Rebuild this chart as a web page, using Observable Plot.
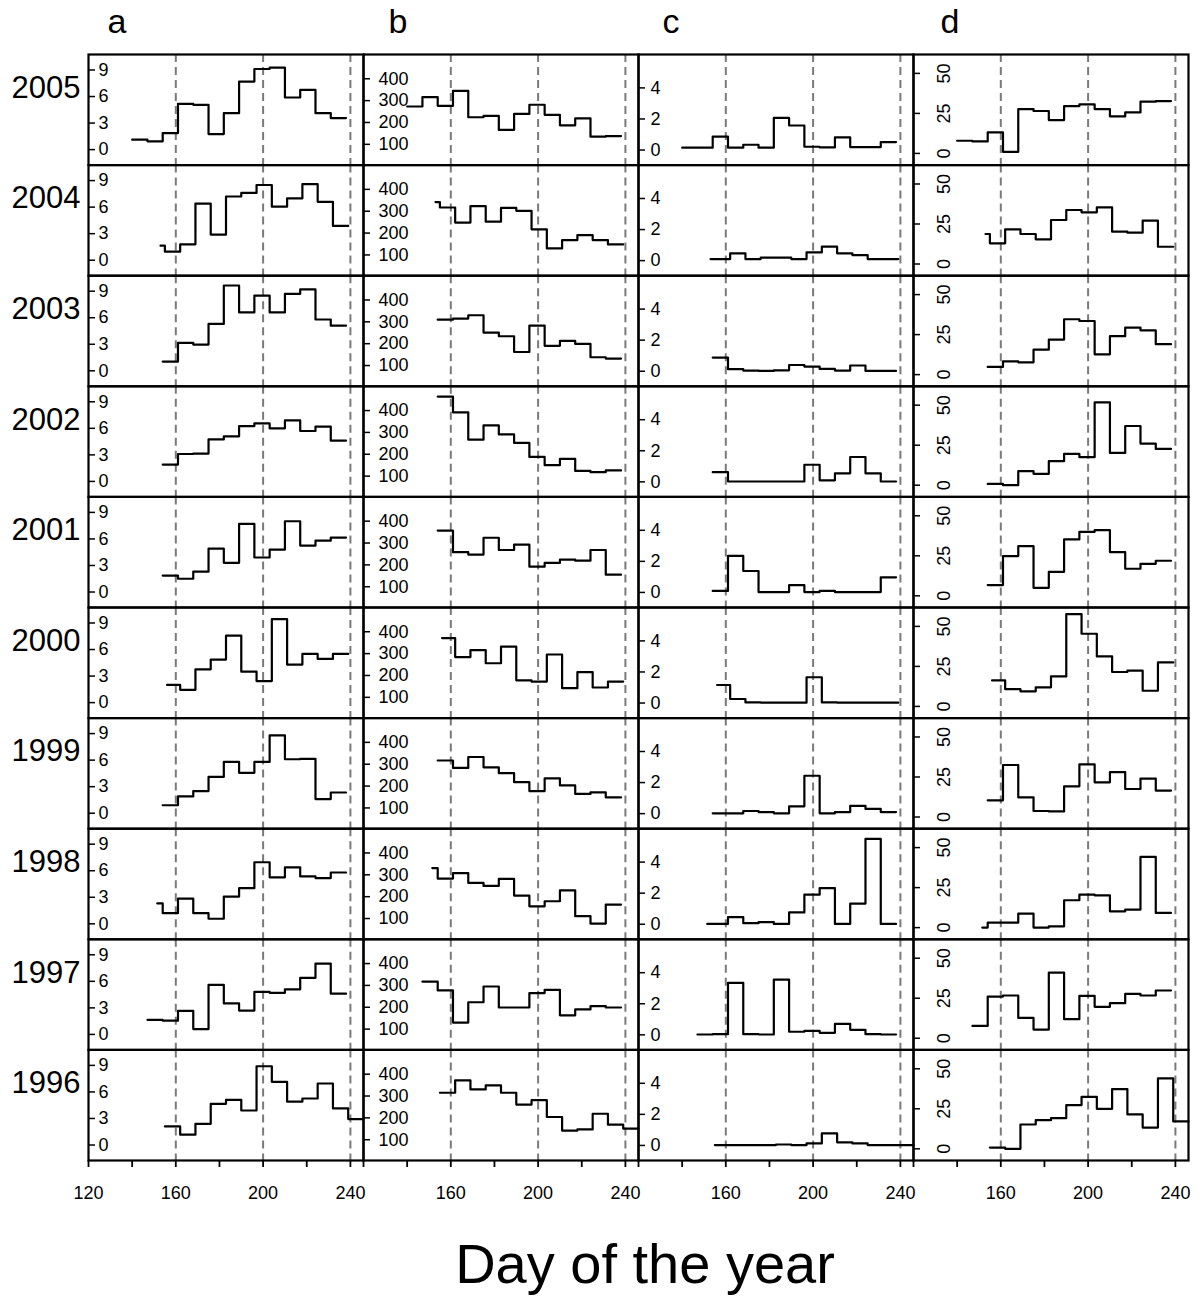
<!DOCTYPE html>
<html>
<head>
<meta charset="utf-8">
<script src="https://cdn.jsdelivr.net/npm/d3@7"></script>
<script src="https://cdn.jsdelivr.net/npm/@observablehq/plot@0.6"></script>
<style>
  body { margin: 0; background: #fff; font-family: "Liberation Sans", Arial, sans-serif; }
  #wrap { position: relative; width: 1200px; height: 1299px; overflow: hidden; background: #fff; }
  .col { position: absolute; top: 0; }
  #overlay { position: absolute; left: 0; top: 0; pointer-events: none; }
</style>
</head>
<body>
<div id="wrap">
  <svg id="overlay" width="1200" height="1299" font-family="Liberation Sans, Arial, sans-serif"></svg>
</div>
<script>
// ---------------- data ----------------
const years = [2005, 2004, 2003, 2002, 2001, 2000, 1999, 1998, 1997, 1996];

// weekly bin edges (day of the year) for each year, same order as `years`
const binEdges = [
  [140, 147, 154, 161, 168, 175, 182, 189, 196, 203, 210, 217, 224, 231, 238],
  [153, 155, 162, 169, 176, 183, 190, 197, 204, 211, 218, 225, 232, 239],
  [154, 161, 168, 175, 182, 189, 196, 203, 210, 217, 224, 231, 238],
  [154, 161, 168, 175, 182, 189, 196, 203, 210, 217, 224, 231, 238],
  [154, 161, 168, 175, 182, 189, 196, 203, 210, 217, 224, 231, 238],
  [156, 162, 169, 176, 183, 190, 197, 204, 211, 218, 225, 232, 239],
  [154, 161, 168, 175, 182, 189, 196, 203, 210, 217, 224, 231, 238],
  [151.5, 154, 161, 168, 175, 182, 189, 196, 203, 210, 217, 224, 231, 238],
  [147, 154, 161, 168, 175, 182, 189, 196, 203, 210, 217, 224, 231, 238],
  [155, 162, 169, 176, 183, 190, 197, 204, 211, 218, 225, 232, 239, 246]
];

// panel a
const seriesA = [
  [1.12, 0.94, 1.87, 5.17, 5.06, 1.76, 4.12, 7.69, 9.11, 9.26, 5.89, 6.75, 4.12, 3.56],
  [1.64, 0.97, 1.8, 6.4, 2.9, 7.2, 7.6, 8.5, 6.05, 7.0, 8.6, 6.6, 3.87],
  [1.05, 3.16, 2.97, 5.3, 9.64, 6.6, 8.5, 6.6, 8.7, 9.2, 5.8, 5.1],
  [1.9, 3.1, 3.15, 4.75, 5.1, 6.25, 6.55, 6.0, 6.9, 5.7, 6.2, 4.6],
  [1.86, 1.5, 2.3, 4.9, 3.3, 7.7, 3.9, 4.8, 8.0, 5.25, 5.8, 6.15],
  [2.0, 1.45, 3.76, 4.87, 7.57, 3.5, 2.43, 9.43, 4.3, 5.5, 4.94, 5.5],
  [0.9, 1.9, 2.5, 4.1, 5.8, 4.57, 5.8, 8.8, 6.1, 6.15, 1.6, 2.34],
  [2.3, 1.2, 2.85, 1.2, 0.57, 3.08, 4.03, 6.96, 5.25, 6.39, 5.36, 5.17, 5.8],
  [1.65, 1.55, 2.65, 0.6, 5.6, 3.5, 2.7, 4.8, 4.7, 5.1, 6.4, 8.0, 4.6],
  [2.1, 1.17, 2.4, 4.66, 5.1, 3.9, 8.9, 7.14, 4.9, 5.26, 6.95, 4.14, 2.93]
];

// panel b
const seriesB = [
  [273, 316, 276, 345, 224, 230, 166, 239, 281, 235, 187, 219, 135, 138],
  [342, 317, 248, 323, 252, 315, 302, 217, 130, 168, 191, 168, 148],
  [310, 315, 330, 251, 234, 162, 283, 190, 213, 199, 138, 132],
  [464, 392, 267, 332, 291, 252, 188, 150, 179, 124, 118, 126],
  [357, 258, 247, 324, 268, 293, 192, 209, 224, 219, 268, 155],
  [371, 284, 316, 256, 332, 178, 172, 296, 142, 215, 145, 172],
  [317, 283, 333, 286, 259, 218, 177, 235, 203, 164, 171, 148],
  [331, 283, 308, 263, 249, 281, 205, 156, 179, 229, 111, 77, 164],
  [317, 277, 130, 223, 295, 199, 199, 265, 280, 163, 190, 205, 199],
  [315, 372, 330, 349, 315, 261, 281, 204, 142, 147, 219, 169, 151]
];

// panel c
const seriesC = [
  [0.15, 0.15, 0.86, 0.15, 0.34, 0.15, 2.07, 1.58, 0.21, 0.17, 0.81, 0.19, 0.19, 0.51],
  [0.1, 0.1, 0.47, 0.1, 0.19, 0.19, 0.1, 0.53, 0.9, 0.47, 0.36, 0.1, 0.1],
  [0.88, 0.13, 0.04, 0.02, 0.06, 0.4, 0.3, 0.15, 0.04, 0.37, 0.02, 0.02],
  [0.62, 0.02, 0.02, 0.02, 0.02, 0.02, 1.1, 0.1, 0.55, 1.6, 0.55, 0.02],
  [0.1, 2.35, 1.38, 0.02, 0.02, 0.47, 0.02, 0.1, 0.02, 0.02, 0.02, 0.97],
  [1.16, 0.26, 0.04, 0.02, 0.02, 0.02, 1.66, 0.04, 0.02, 0.02, 0.02, 0.02],
  [0.02, 0.02, 0.17, 0.1, 0.02, 0.47, 2.44, 0.02, 0.1, 0.5, 0.3, 0.1],
  [0.02, 0.02, 0.46, 0.07, 0.13, 0.02, 0.76, 1.9, 2.33, 0.02, 1.33, 5.5, 0.02],
  [0.02, 0.04, 3.35, 0.04, 0.02, 3.55, 0.2, 0.26, 0.13, 0.7, 0.32, 0.04, 0.02],
  [0.02, 0.02, 0.02, 0.02, 0.06, 0.02, 0.13, 0.77, 0.2, 0.13, 0.02, 0.02, 0.02]
];

// panel d
const seriesD = [
  [7.9, 7.5, 13.1, 1.0, 27.7, 26.5, 20.8, 29.6, 30.6, 27.7, 23.1, 25.6, 32.3, 32.7],
  [18.75, 12.9, 21.7, 18.75, 15.4, 27.5, 33.75, 32.3, 35.4, 20.2, 19.6, 27.1, 10.8],
  [4.8, 8.3, 7.7, 15.6, 21.9, 34.6, 33.5, 12.7, 24, 29.4, 27.7, 19],
  [0.8, 0, 8.75, 7.1, 15, 19.6, 17.5, 51.7, 20.2, 37, 26, 22.7],
  [6.7, 24.8, 31, 5, 15, 35.2, 40, 41, 27.3, 16.9, 20, 21.9],
  [16.25, 10.8, 9.4, 11.9, 18.75, 57.7, 45.4, 31.25, 21.5, 22.3, 9.8, 27.5],
  [10.4, 32.5, 12.3, 3.75, 3.5, 19.2, 32.9, 21.7, 28.1, 17.5, 24, 16.5],
  [0, 3.1, 3.1, 8.75, 0, 0.8, 17.1, 20.6, 20.2, 10.2, 11.25, 44.2, 9.2],
  [7.7, 26, 26.7, 12.7, 5.4, 41, 11.9, 26.5, 19.6, 21.9, 27.7, 26.7, 29.8],
  [0.8, 0, 15.2, 17.9, 19.2, 27.3, 32.5, 25, 37.3, 21.5, 13.3, 44, 17.1]
];

const panelLetters = ["a", "b", "c", "d"];
const yTicksA = [0, 3, 6, 9];
const yTicksB = [100, 200, 300, 400];
const yTicksC = [0, 2, 4];
const yTicksD = [0, 25, 50];
const xTicks = [120, 140, 160, 180, 200, 220, 240];
const xLabelsFirst = [120, 160, 200, 240];
const xLabelsOther = [160, 200, 240];
const dashDays = [160, 200, 240];
const xTitle = "Day of the year";

// ---------------- layout ----------------
const FONT = "Liberation Sans, Arial, sans-serif";
const panelW = 275;
const colLeft = [88, 363, 638, 913];
const panelTop = 54, panelBottom = 1160;
const plotH = 1220;
const TICK_FS = 18;

function toSteps(series) {
  const out = [];
  years.forEach((yr, i) => {
    const e = binEdges[i], v = series[i];
    const n = Math.min(v.length, e.length - 1);
    for (let k = 0; k < n; k++) out.push({year: yr, day: e[k], v: v[k]});
    out.push({year: yr, day: e[n], v: v[n - 1]});
  });
  return out;
}

const columns = [
  {series: seriesA, domain: [-1.75, 10.75], ticks: yTicksA, labelDx: 10, rotate: false},
  {series: seriesB, domain: [5, 511], ticks: yTicksB, labelDx: 15, rotate: false},
  {series: seriesC, domain: [-0.97, 6.15], ticks: yTicksC, labelDx: 12, rotate: false},
  {series: seriesD, domain: [-7.3, 61.8], ticks: yTicksD, labelDx: 31, rotate: true}
];

const wrap = document.getElementById("wrap");

columns.forEach((c, idx) => {
  const first = idx === 0;
  const ml = first ? 88 : 10;
  const mr = 10;
  const xLabels = first ? xLabelsFirst : xLabelsOther;
  const marks = [
    Plot.ruleX(dashDays, {x: d => d, stroke: "#7a7a7a", strokeWidth: 2, strokeDasharray: "8,5"}),
    // inward y ticks
    Plot.axisY({anchor: "left", ticks: c.ticks, tickSize: 7, dx: 7, strokeWidth: 1.5,
                tickFormat: () => "", label: null}),
    // y tick labels inside the panel
    c.rotate
      ? Plot.axisY({anchor: "left", ticks: c.ticks, tickSize: 0, tickPadding: 0, dx: c.labelDx,
                    tickRotate: -90, textAnchor: "middle", lineAnchor: "middle",
                    fontSize: TICK_FS, label: null})
      : Plot.axisY({anchor: "left", ticks: c.ticks, tickSize: 0, tickPadding: 0, dx: c.labelDx,
                    textAnchor: "start", fontSize: TICK_FS, label: null}),
    Plot.axisX({anchor: "bottom", ticks: xTicks, tickSize: 7, tickPadding: 19, strokeWidth: 1.8,
                fontSize: TICK_FS, label: null,
                tickFormat: d => xLabels.includes(d) ? String(d) : ""}),
    Plot.line(toSteps(c.series), {x: "day", y: "v", fy: "year", curve: "step-after",
                                  stroke: "black", strokeWidth: 2.2}),
    Plot.frame({stroke: "black", strokeWidth: 2.2})
  ];
  if (first) {
    marks.push(Plot.axisFy({anchor: "left", tickSize: 0, tickPadding: 8, fontSize: 31,
                            dy: -22, label: null, tickFormat: d => String(d)}));
  }
  const chart = Plot.plot({
    width: ml + panelW + mr,
    height: plotH,
    marginTop: panelTop,
    marginBottom: plotH - panelBottom,
    marginLeft: ml,
    marginRight: mr,
    x: {domain: [120, 246], axis: null},
    y: {domain: c.domain, axis: null},
    fy: {domain: years, padding: 0, round: false, axis: null},
    style: {fontFamily: FONT, fontSize: TICK_FS + "px", overflow: "visible", background: "transparent", color: "black"},
    marks
  });
  chart.classList.add("col");
  chart.style.left = (colLeft[idx] - ml) + "px";
  chart.style.position = "absolute";
  chart.style.top = "0px";
  wrap.insertBefore(chart, document.getElementById("overlay"));
});

// column letters and x title
const ov = d3.select("#overlay");
const letterX = [117, 398, 671, 950];
panelLetters.forEach((t, i) => {
  ov.append("text").attr("x", letterX[i]).attr("y", 33).attr("text-anchor", "middle")
    .attr("font-size", 34).attr("fill", "black").text(t);
});
ov.append("text").attr("x", 645).attr("y", 1283).attr("text-anchor", "middle")
  .attr("font-size", 56).attr("fill", "black").text(xTitle);
</script>
</body>
</html>
